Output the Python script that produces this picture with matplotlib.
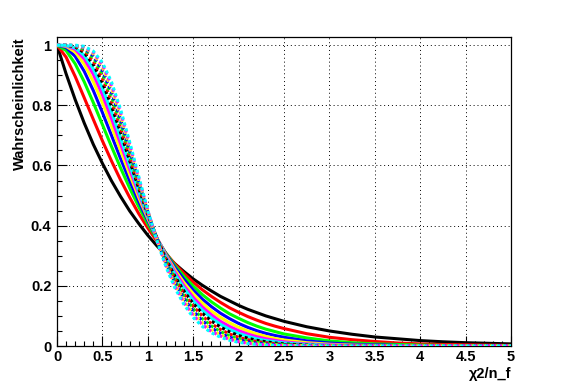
import matplotlib
matplotlib.use("Agg")
import matplotlib.pyplot as plt
from matplotlib.ticker import MultipleLocator

# chi2/n_f values
x = [0.0, 0.1, 0.2, 0.3, 0.4, 0.5, 0.6, 0.7, 0.8, 0.9, 1.0, 1.1, 1.2, 1.3, 1.4,
     1.5, 1.6, 1.7, 1.8, 1.9, 2.0, 2.1, 2.2, 2.3, 2.4, 2.5, 2.75, 3.0, 3.25,
     3.5, 3.75, 4.0, 4.25, 4.5, 4.75, 5.0]

# Wahrscheinlichkeit fuer n_f = 2 ... 15
p2 = [1.0, .905, .819, .741, .670, .607, .549, .497, .449, .407, .368, .333, .301, .273, .247,
      .223, .202, .183, .165, .150, .135, .122, .111, .100, .091, .082, .064, .050, .039,
      .030, .024, .018, .014, .011, .009, .007]
p3 = [1.0, .960, .896, .825, .753, .682, .615, .552, .494, .440, .392, .348, .308, .272, .241,
      .212, .187, .165, .145, .127, .112, .098, .086, .075, .066, .058, .041, .029, .021,
      .015, .010, .007, .005, .004, .003, .002]
p4 = [1.0, .982, .938, .878, .809, .736, .663, .592, .525, .463, .406, .355, .308, .267, .231,
      .199, .171, .147, .126, .107, .092, .078, .066, .056, .048, .040, .027, .017, .011,
      .007, .005, .003, .002, .001, .001, .0]
p5 = [1.0, .992, .963, .913, .849, .776, .700, .623, .549, .480, .416, .358, .306, .261, .221,
      .186, .156, .131, .109, .091, .075, .062, .051, .042, .035, .029, .017, .010, .006,
      .004, .002, .001, .001, .0, .0, .0]
p6 = [1.0, .996, .977, .937, .879, .809, .731, .650, .570, .494, .423, .359, .303, .253, .210,
      .174, .143, .116, .095, .077, .062, .050, .040, .032, .025, .020, .011, .006, .003,
      .002, .001, .001, .0, .0, .0, .0]
p7 = [1.0, .998, .986, .954, .903, .835, .756, .672, .587, .505, .429, .360, .299, .246, .200,
      .162, .130, .104, .082, .065, .051, .040, .031, .024, .019, .014, .007, .004, .002,
      .001, .0, .0, .0, .0, .0, .0]
p8 = [1.0, .999, .991, .966, .921, .857, .779, .692, .603, .515, .433, .359, .294, .238, .191,
      .151, .119, .093, .072, .055, .042, .032, .024, .018, .014, .010, .005, .002, .001,
      .0, .0, .0, .0, .0, .0, .0]
p9 = [1.0, 1.0, .994, .975, .936, .876, .798, .710, .616, .524, .437, .359, .290, .231, .182,
      .141, .109, .083, .063, .047, .035, .026, .019, .014, .010, .007, .003, .001, .001,
      .0, .0, .0, .0, .0, .0, .0]
p10 = [1.0, 1.0, .996, .981, .947, .891, .815, .725, .629, .532, .440, .358, .285, .224, .173,
       .132, .100, .074, .055, .040, .029, .021, .015, .011, .008, .005, .002, .001, .0,
       .0, .0, .0, .0, .0, .0, .0]
p11 = [1.0, 1.0, .998, .986, .957, .905, .830, .740, .640, .539, .443, .356, .280, .217, .165,
       .124, .091, .067, .048, .034, .024, .017, .012, .008, .006, .004, .001, .001, .0,
       .0, .0, .0, .0, .0, .0, .0]
p12 = [1.0, 1.0, .998, .990, .964, .916, .844, .753, .651, .546, .446, .355, .276, .210, .157,
       .116, .084, .060, .042, .029, .020, .014, .009, .006, .004, .003, .001, .0, .0,
       .0, .0, .0, .0, .0, .0, .0]
p13 = [1.0, 1.0, .999, .992, .971, .926, .856, .765, .661, .552, .448, .353, .271, .204, .150,
       .108, .077, .054, .037, .025, .017, .011, .007, .005, .003, .002, .001, .0, .0,
       .0, .0, .0, .0, .0, .0, .0]
p14 = [1.0, 1.0, .999, .994, .976, .935, .867, .777, .670, .558, .450, .351, .267, .198, .143,
       .102, .071, .048, .033, .022, .014, .009, .006, .004, .002, .001, .0, .0, .0,
       .0, .0, .0, .0, .0, .0, .0]
p15 = [1.0, 1.0, 1.0, .996, .980, .942, .878, .787, .679, .564, .451, .350, .263, .192, .137,
       .095, .065, .044, .029, .019, .012, .008, .005, .003, .002, .001, .0, .0, .0,
       .0, .0, .0, .0, .0, .0, .0]

kurven = [p2, p3, p4, p5, p6, p7, p8, p9, p10, p11, p12, p13, p14, p15]
farben = ['#000000', '#ff0000', '#00ff00', '#0000ff', '#ffff00', '#ff00ff', '#00ffff']

plt.rcParams['font.family'] = ['Liberation Sans', 'DejaVu Sans']
plt.rcParams['font.weight'] = 'bold'
fig = plt.figure(figsize=(5.67, 3.84), dpi=100)
ax = fig.add_axes([57 / 567, 1 - 346 / 384, 454 / 567, 309 / 384])

for i, p in enumerate(kurven):
    if i < 7:
        ax.plot(x, p, color=farben[i % 7], lw=2.2, ls='-', zorder=3)
    else:
        # ab n_f = 9 gepunktet
        ax.plot(x, p, color=farben[i % 7], lw=2.2, ls=(0, (1, 1)),
                dash_capstyle='butt', zorder=3)

ax.set_xlim(0, 5)
ax.set_ylim(0, 1.027)
ax.set_xticks([0, 0.5, 1, 1.5, 2, 2.5, 3, 3.5, 4, 4.5, 5])
ax.set_xticklabels(['0', '0.5', '1', '1.5', '2', '2.5', '3', '3.5', '4', '4.5', '5'])
ax.set_yticks([0, 0.2, 0.4, 0.6, 0.8, 1.0])
ax.set_yticklabels(['0', '0.2', '0.4', '0.6', '0.8', '1'])
ax.xaxis.set_minor_locator(MultipleLocator(0.1))
ax.yaxis.set_minor_locator(MultipleLocator(0.05))
ax.tick_params(which='major', direction='in', length=7, width=0.8, labelsize=10.5, pad=3)
ax.tick_params(which='minor', direction='in', length=3.5, width=0.8)
ax.tick_params(axis='y', pad=4)
ax.grid(True, which='major', color='black', lw=0.7, ls=(0, (1, 3)))
for s in ax.spines.values():
    s.set_linewidth(0.9)

ax.set_xlabel('χ2/n_f', fontsize=10.5, fontweight='bold', loc='right', labelpad=2)
ax.set_ylabel('Wahrscheinlichkeit', fontsize=10.5, fontweight='bold', loc='top', labelpad=3)

fig.savefig("out.png")
